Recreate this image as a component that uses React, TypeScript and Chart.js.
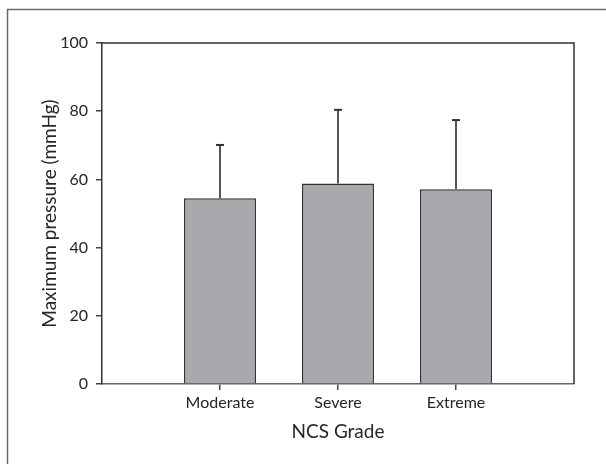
import React, { useEffect, useRef } from "react";
import { Chart, registerables } from "chart.js";

Chart.register(...registerables);

const categories = ["Moderate", "Severe", "Extreme"];
const positions = [1, 2, 3];
const means = [54.5, 58.8, 57.1];
const sds = [15.6, 21.6, 20.3];
const yTicks = [0, 20, 40, 60, 80, 100];

const FONT = "Lato, 'DejaVu Sans', sans-serif";
const TEXT = "#262626";

const framePlugin = {
  id: "frame",
  beforeDraw(chart: any) {
    const ctx = chart.ctx;
    ctx.save();
    ctx.fillStyle = "#ffffff";
    ctx.fillRect(0, 0, chart.width, chart.height);
    ctx.strokeStyle = "#6a6a6a";
    ctx.lineWidth = 1.5;
    ctx.beginPath();
    ctx.moveTo(7.5, chart.height);
    ctx.lineTo(7.5, 9.5);
    ctx.lineTo(chart.width, 9.5);
    ctx.stroke();
    ctx.restore();
  },
  afterDraw(chart: any) {
    const { ctx, chartArea } = chart;
    ctx.save();
    ctx.strokeStyle = "#333333";
    ctx.lineWidth = 1.5;
    ctx.beginPath();
    ctx.moveTo(chartArea.left, chartArea.top);
    ctx.lineTo(chartArea.right, chartArea.top);
    ctx.lineTo(chartArea.right, chartArea.bottom);
    ctx.stroke();
    ctx.restore();
  },
};

const errorBarPlugin = {
  id: "errorBars",
  afterDatasetsDraw(chart: any) {
    const { ctx } = chart;
    const xs = chart.scales.x;
    const ys = chart.scales.y;
    ctx.save();
    positions.forEach((p, i) => {
      const x = xs.getPixelForValue(p);
      const y0 = ys.getPixelForValue(means[i]);
      const y1 = ys.getPixelForValue(means[i] + sds[i]);
      ctx.strokeStyle = "#555555";
      ctx.lineWidth = 2;
      ctx.beginPath();
      ctx.moveTo(x, y0);
      ctx.lineTo(x, y1);
      ctx.stroke();
      ctx.strokeStyle = "#333333";
      ctx.lineWidth = 2;
      ctx.beginPath();
      ctx.moveTo(x - 4, y1);
      ctx.lineTo(x + 4, y1);
      ctx.stroke();
    });
    ctx.restore();
  },
};

export default function App() {
  const ref = useRef<HTMLCanvasElement | null>(null);
  useEffect(() => {
    document.body.style.margin = "0";
    const canvas = ref.current;
    if (!canvas) return;
    const chart = new Chart(canvas, {
      type: "bar",
      data: {
        datasets: [
          {
            data: positions.map((p, i) => ({ x: p, y: means[i] })),
            backgroundColor: "#a8a9ad",
            borderColor: "#333333",
            borderWidth: 1.5,
            barPercentage: 0.61,
            categoryPercentage: 1,
          },
        ],
      },
      options: {
        responsive: false,
        animation: false,
        devicePixelRatio: 1,
        layout: { padding: { left: 0, top: 43, right: 32, bottom: 0 } },
        plugins: { legend: { display: false }, tooltip: { enabled: false } },
        scales: {
          x: {
            type: "linear",
            min: 0,
            max: 4,
            offset: false,
            afterFit: (s: any) => {
              s.height = 80;
            },
            afterBuildTicks: (s: any) => {
              s.ticks = positions.map((v) => ({ value: v }));
            },
            grid: {
              offset: false,
              drawOnChartArea: false,
              tickLength: 6,
              color: "#444444",
              lineWidth: 1.5,
            },
            border: { display: true, color: "#666666", width: 1.5 },
            ticks: {
              autoSkip: false,
              maxRotation: 0,
              padding: 3,
              color: TEXT,
              font: { family: FONT, size: 16 },
              callback: (v: any) => categories[positions.indexOf(Number(v))] ?? "",
            },
            title: {
              display: true,
              text: "NCS Grade",
              color: TEXT,
              font: { family: FONT, size: 19 },
              padding: { top: 0, bottom: 21 },
            },
          },
          y: {
            min: 0,
            max: 100,
            afterFit: (s: any) => {
              s.width = 102;
            },
            afterBuildTicks: (s: any) => {
              s.ticks = yTicks.map((v) => ({ value: v }));
            },
            grid: {
              drawOnChartArea: false,
              tickLength: 6,
              color: "#444444",
              lineWidth: 1.5,
            },
            border: { display: true, color: "#333333", width: 1.5 },
            ticks: {
              padding: 8,
              color: TEXT,
              font: { family: FONT, size: 16 },
            },
            title: {
              display: true,
              text: "Maximum pressure (mmHg)",
              color: TEXT,
              font: { family: FONT, size: 19 },
              padding: { top: 38, bottom: 0 },
            },
          },
        },
      },
      plugins: [framePlugin, errorBarPlugin],
    });
    return () => chart.destroy();
  }, []);
  return <canvas ref={ref} width={606} height={464} style={{ display: "block" }} />;
}
